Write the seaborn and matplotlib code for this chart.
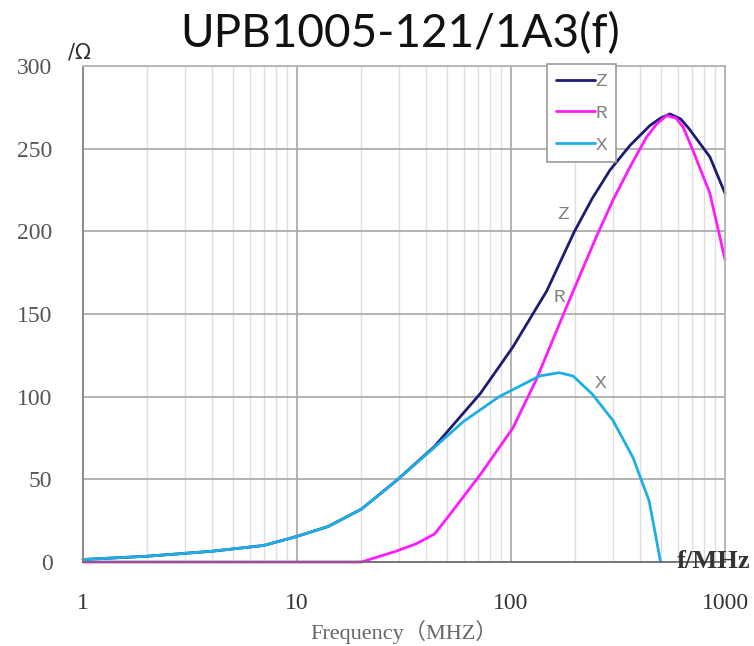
import pandas as pd
import seaborn as sns
import matplotlib.pyplot as plt
from matplotlib.ticker import FixedLocator, NullFormatter

# values (frequency in MHz, impedance in ohm)
freq_z = [1, 2, 4, 7, 10, 14, 20, 29, 44, 72, 102, 147, 198, 240, 290, 360, 446, 500, 553, 620, 680, 850, 1000]
z_ohm = [1.5, 3.5, 6.5, 10, 15.5, 21.5, 32, 49, 70, 102, 130, 164, 200, 220, 237, 252, 264, 268.5, 271, 268, 262, 245, 223]

freq_r = [1, 10, 20, 29, 36, 44, 52, 72, 102, 131, 176, 251, 300, 360, 430, 480, 534, 590, 638, 708, 850, 1000]
r_ohm = [0, 0, 0, 6.5, 11, 17, 29, 53, 81, 110, 150, 197, 219, 239, 257, 265, 270, 268.5, 263, 249, 223, 183]

freq_x = [1, 2, 4, 7, 10, 14, 20, 29, 44, 60, 88, 136, 168, 195, 240, 300, 372, 442, 500]
x_ohm = [1.5, 3.5, 6.5, 10, 15.5, 21.5, 32, 49, 69.5, 85, 100, 112.5, 114.5, 112.5, 101.5, 85.5, 63, 37, 0]

curves = ["Z", "R", "X"]
colors = {"Z": "#1c1c72", "R": "#ff1aff", "X": "#1eaee6"}
y_ticks = [0, 50, 100, 150, 200, 250, 300]
x_ticks = [1, 10, 100, 1000]
x_labels = ["1", "10", "100", "1000"]

df = pd.concat([
    pd.DataFrame({"freq": freq_z, "ohm": z_ohm, "curve": "Z"}),
    pd.DataFrame({"freq": freq_r, "ohm": r_ohm, "curve": "R"}),
    pd.DataFrame({"freq": freq_x, "ohm": x_ohm, "curve": "X"}),
], ignore_index=True)

sns.set_style("white")
plt.rcParams["font.family"] = ["Liberation Serif", "Noto Sans CJK SC", "DejaVu Sans"]

fig = plt.figure(figsize=(7.54, 6.46), dpi=100)
ax = fig.add_axes([83 / 754, 1 - 562 / 646, 642 / 754, 496 / 646])

sns.lineplot(data=df, x="freq", y="ohm", hue="curve", hue_order=curves,
             palette=colors, sort=False, estimator=None, linewidth=2.0, ax=ax)
for ln in ax.get_lines():
    ln.set_clip_on(False)
    ln.set_solid_joinstyle("round")

ax.set_xscale("log")
ax.set_xlim(1, 1000)
ax.set_ylim(0, 300)
ax.xaxis.set_major_locator(FixedLocator(x_ticks))
ax.xaxis.set_minor_locator(FixedLocator([m * 10 ** d for d in range(3) for m in range(2, 10)]))
ax.xaxis.set_minor_formatter(NullFormatter())
ax.set_xticklabels(x_labels)
ax.set_yticks(y_ticks)
ax.tick_params(axis="both", which="both", length=0)
ax.tick_params(axis="y", pad=22, labelsize=17, labelcolor="#555555")
ax.tick_params(axis="x", pad=22, labelsize=17, labelcolor="#333333")
ax.set_xlabel("")
ax.set_ylabel("")

ax.grid(which="major", axis="both", color="#a6a6a6", linewidth=1.2)
ax.grid(which="minor", axis="x", color="#dedede", linewidth=1.0)
ax.set_axisbelow(True)
for side, col in [("left", "#858585"), ("bottom", "#6e6e6e"), ("top", "#b5b5b5"), ("right", "#b5b5b5")]:
    ax.spines[side].set_color(col)
    ax.spines[side].set_linewidth(1.3)

# curve labels
ax.text(175, 210, "Z", color="#808080", fontsize=14, family="Liberation Mono", ha="center", va="center")
ax.text(169, 160, "R", color="#808080", fontsize=14, family="Liberation Mono", ha="center", va="center")
ax.text(263, 108, "X", color="#808080", fontsize=14, family="Liberation Mono", ha="center", va="center")

handles, labels = ax.get_legend_handles_labels()
leg = ax.legend(handles, labels, loc="upper left", bbox_to_anchor=(547 / 754, 1 - 64 / 646),
                bbox_transform=fig.transFigure, borderaxespad=0, fancybox=False,
                framealpha=1, edgecolor="#999999", prop={"family": "Liberation Mono", "size": 14},
                labelspacing=0.72, handlelength=2.0, handletextpad=0.05, borderpad=0.45)
leg.get_frame().set_linewidth(1.2)
for t in leg.get_texts():
    t.set_color("#808080")

fig.text(400 / 754, 1 - 34 / 646, "UPB1005-121/1A3(f)", fontsize=33, family="Lato",
         ha="center", va="center", color="#111111")
fig.text(68 / 754, 1 - 52 / 646, "/Ω", fontsize=15, family="DejaVu Sans",
         ha="left", va="center", color="#333333")
fig.text(677 / 754, 1 - 561 / 646, "f/MHz", fontsize=19, fontweight="bold",
         ha="left", va="center", color="#333333")
fig.text(404 / 754, 1 - 632 / 646, "Frequency（MHZ）", fontsize=16,
         ha="center", va="center", color="#666666")

fig.savefig("out.png", dpi=100)
